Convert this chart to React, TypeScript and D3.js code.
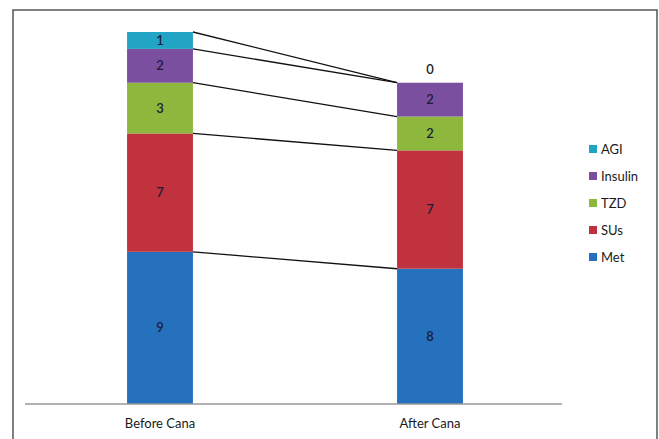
import React from "react";
import * as d3 from "d3";

const categories = ["Before Cana", "After Cana"];
const seriesNames = ["Met", "SUs", "TZD", "Insulin", "AGI"];
const metValues = [9, 8];
const susValues = [7, 7];
const tzdValues = [3, 2];
const insulinValues = [2, 2];
const agiValues = [1, 0];
const seriesColors = ["#2671bd", "#c0323d", "#8db83d", "#7a4f9f", "#22a5c5"];
const legendOrder = ["AGI", "Insulin", "TZD", "SUs", "Met"];

const W = 659;
const H = 439;
const FONT = "Lato, 'Open Sans', sans-serif";

export default function App() {
  const valuesBySeries = [metValues, susValues, tzdValues, insulinValues, agiValues];
  const rows = categories.map((c, i) => {
    const r: any = { cat: c };
    seriesNames.forEach((s, k) => (r[s] = valuesBySeries[k][i]));
    return r;
  });
  const stack = d3.stack<any>().keys(seriesNames)(rows);

  const x = d3
    .scaleBand<string>()
    .domain(categories)
    .range([25, 565])
    .paddingInner(0.756)
    .paddingOuter(0.378);
  const y = d3.scaleLinear().domain([0, 22]).range([404, 32]);
  const bw = x.bandwidth();
  const color = d3.scaleOrdinal<string, string>().domain(seriesNames).range(seriesColors);

  const legendY = d3.scalePoint<string>().domain(legendOrder).range([149, 257]);

  return (
    <svg
      width={W}
      height={H}
      style={{ position: "absolute", left: 0, top: 0, background: "#fff" }}
      fontFamily={FONT}
    >
      <rect x={0} y={0} width={W} height={H} fill="#fff" />
      <path d={`M13,${H + 2} L13,10 L657,10 L657,${H + 2}`} fill="none" stroke="#555" strokeWidth={1.5} />

      {stack.map((layer, k) =>
        layer.map((d, i) => {
          const x0 = x(categories[i])!;
          const h = y(d[0]) - y(d[1]);
          return (
            <rect
              key={`${k}-${i}`}
              x={x0}
              y={y(d[1])}
              width={bw}
              height={h}
              fill={color(seriesNames[k])}
            />
          );
        })
      )}

      {stack.map((layer, k) => {
        const a = layer[0];
        const b = layer[1];
        return (
          <line
            key={`c-${k}`}
            x1={x(categories[0])! + bw}
            y1={y(a[1])}
            x2={x(categories[1])!}
            y2={y(b[1])}
            stroke="#111"
            strokeWidth={1.3}
          />
        );
      })}

      {stack.map((layer, k) =>
        layer.map((d, i) => {
          const v = d[1] - d[0];
          const cx = x(categories[i])! + bw / 2;
          const cy = v === 0 ? y(d[1]) - 13 : (y(d[0]) + y(d[1])) / 2;
          return (
            <text
              key={`l-${k}-${i}`}
              x={cx}
              y={cy}
              dy="0.35em"
              textAnchor="middle"
              fontSize={13}
              fontWeight={600}
              fill={v === 0 ? "#222" : "#1c1c3a"}
            >
              {v}
            </text>
          );
        })
      )}

      <line x1={25} x2={562} y1={y(0)} y2={y(0)} stroke="#999" strokeWidth={1.3} />

      {categories.map((c) => (
        <text
          key={c}
          x={x(c)! + bw / 2}
          y={423}
          dy="0.35em"
          textAnchor="middle"
          fontSize={13}
          fill="#1a1a1a"
        >
          {c}
        </text>
      ))}

      {legendOrder.map((s) => (
        <g key={s} transform={`translate(589, ${legendY(s)})`}>
          <rect x={0} y={-4} width={8} height={8} fill={color(s)} />
          <text x={12} y={0} dy="0.35em" fontSize={13} fill="#1a1a1a">
            {s}
          </text>
        </g>
      ))}
    </svg>
  );
}
